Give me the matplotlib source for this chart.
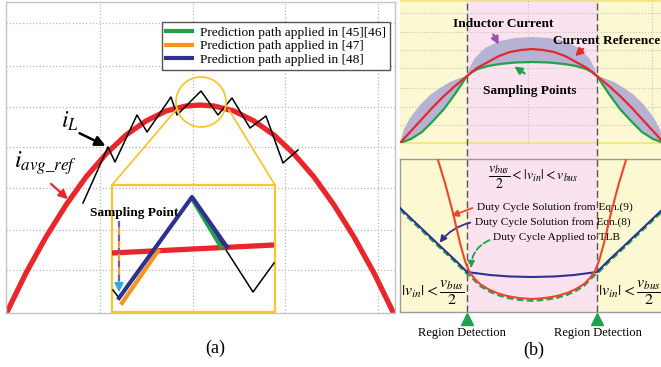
import numpy as np
import matplotlib
matplotlib.use("Agg")
import matplotlib.pyplot as plt
from matplotlib.patches import Circle, Rectangle
from matplotlib.lines import Line2D

plt.rcParams["font.family"] = ["Liberation Serif", "DejaVu Serif"]
plt.rcParams["mathtext.fontset"] = "stix"

# ---------------- panel (a): predictive current control over one half cycle ----------------
# average current reference (arbitrary units)
ref_x = [0, 20, 40, 60, 80, 100, 120, 140, 160, 180, 194, 208, 228, 248, 268, 288, 308, 328, 348, 368, 388]
ref_y = [-1, 40, 76, 108, 136, 159, 178, 192, 202, 207, 208, 207, 202, 192, 178, 159, 136, 108, 76, 40, -1]
# inductor current ripple
il_x = [77, 102, 109, 131, 141, 165, 171, 195, 212, 226, 244, 260, 277, 292]
il_y = [110, 166, 151, 198, 181, 216, 198, 222, 198, 215, 185, 197, 150, 163]
# magnified switching period
zoom_il_x = [107, 113, 186, 247, 268]
zoom_il_y = [23, 15, 116, 21, 50]
zoom_ref_x = [106, 268]
zoom_ref_y = [60, 68]
path_4546_x = [188, 215]
path_4546_y = [111, 66]
path_47_x = [116, 152]
path_47_y = [10, 62]
path_48_x = [113, 186, 221]
path_48_y = [15, 116, 66]
legend_labels = ["Prediction path applied in [45][46]",
                 "Prediction path applied in [47]",
                 "Prediction path applied in [48]"]

# ---------------- panel (b), top: currents over a line half cycle ----------------
cur_ref_x = [0, 11, 22, 33, 44, 55, 67, 77, 88, 99, 110, 121, 132, 143, 154, 165, 176, 187, 197,
             209, 220, 231, 242, 253, 264]
cur_ref_y = [0, 12, 24, 36, 47, 57, 67, 75, 81, 87, 91, 93, 94, 93, 91, 87, 81, 75, 67,
             57, 47, 36, 24, 12, 0]
sample_x = [0, 11, 22, 33, 44, 55, 67, 72, 78, 88, 100, 115, 132, 149, 164, 176, 186, 192, 197,
            209, 220, 231, 242, 253, 264]
sample_y = [0, 4, 11, 22, 34, 49, 67, 71, 74, 77, 79, 80.5, 81, 80.5, 79, 77, 74, 71, 67,
            49, 34, 22, 11, 4, 0]
ind_env_x = [0, 4, 10, 20, 30, 40, 50, 60, 67, 70, 75, 85, 100, 115, 132, 149, 164, 179, 189, 194,
             197, 204, 214, 224, 234, 244, 254, 260, 264]
ind_env_y = [0, 14, 25, 38, 48, 55, 61, 65, 67, 76, 85, 95, 102, 105, 106, 105, 102, 95, 85, 76,
             67, 65, 61, 55, 48, 38, 25, 14, 0]

# ---------------- panel (b), bottom: duty cycle solutions ----------------
eq8_x = [0, 20, 40, 55, 67, 90, 110, 132, 154, 174, 197, 209, 224, 244, 264]
eq8_y = [101, 82, 63, 49, 37, 34, 32.5, 32, 32.5, 34, 37, 49, 63, 82, 101]
eq9_x = [38, 45, 53, 60, 65, 69, 74, 80, 88, 97, 107, 119, 132, 145, 157, 167, 176, 184, 190, 195,
         199, 204, 211, 219, 226]
eq9_y = [149, 126, 96, 66, 48, 38, 31, 25, 20, 16, 13, 11, 10, 11, 13, 16, 20, 25, 31, 38,
         48, 66, 96, 126, 149]
applied_x = [0, 20, 40, 55, 67, 69, 74, 80, 88, 97, 107, 119, 132, 145, 157, 167, 176, 184, 190, 195,
             197, 209, 224, 244, 264]
applied_y = [101, 82, 63, 49, 37, 36, 31, 25, 20, 16, 13, 11, 10, 11, 13, 16, 20, 25, 31, 36,
             37, 49, 63, 82, 101]
region_edges = [67, 197]

RED = "#e8262b"
GREEN = "#1fa34a"
ORANGE = "#f7941d"
NAVY = "#2e3192"
YELLOW = "#f8c630"
BG_Y = "#fcf9d2"
BG_P = "#fae3ef"
FILL = "#b6b2d4"
EQ9 = "#f0452c"

W, H = 661, 367


def rect(x0, y0, x1, y1):
    return [x0 / W, 1 - y1 / H, (x1 - x0) / W, (y1 - y0) / H]


fig = plt.figure(figsize=(W / 100, H / 100), dpi=100)

# ======================= (a) =======================
ax = fig.add_axes(rect(6, 2, 395, 313))
ax.set_xlim(0, 389)
ax.set_ylim(0, 311)
ax.set_xticks([94, 187, 279, 372])
ax.set_yticks([43, 83, 125, 166, 206, 247, 290])
ax.tick_params(length=0, labelbottom=False, labelleft=False)
ax.grid(True, linestyle=":", color="#b8b8b8", lw=0.9)
for s in ax.spines.values():
    s.set_color("#c4c4c4")
    s.set_linewidth(1.0)

ax.plot(ref_x, ref_y, color=RED, lw=3.8, solid_capstyle="butt", zorder=2)
ax.plot(il_x, il_y, color="black", lw=1.1, zorder=3)

ax.add_patch(Circle((195, 211), 25, fill=False, ec=YELLOW, lw=1.3, zorder=4))
ax.plot([170, 106], [203, 128], color=YELLOW, lw=1.3, zorder=4)
ax.plot([223, 269], [203, 128], color=YELLOW, lw=1.3, zorder=4)
ax.add_patch(Rectangle((106, 0.8), 163, 127.2, fill=False, ec=YELLOW, lw=1.6, zorder=4))

ax.plot(zoom_il_x, zoom_il_y, color="black", lw=1.1, zorder=5)
ax.plot(zoom_ref_x, zoom_ref_y, color=RED, lw=3.8, solid_capstyle="butt", zorder=5)
ax.plot(path_4546_x, path_4546_y, color=GREEN, lw=3.0, zorder=6)
ax.plot(path_47_x, path_47_y, color=ORANGE, lw=3.0, zorder=6)
ax.plot(path_48_x, path_48_y, color=NAVY, lw=3.0, zorder=7)

ax.plot([113, 113], [92, 30], color="#7e57a8", lw=1.6, linestyle=(0, (3, 3)), zorder=8)
ax.plot([113, 113], [92, 30], color="#f39a2b", lw=1.6, linestyle=(3, (3, 3)), zorder=8)
ax.annotate("", xy=(113, 18), xytext=(113, 31),
            arrowprops=dict(arrowstyle="-|>", color="#29abe2", lw=1.4, mutation_scale=13), zorder=9)
ax.text(84, 100, "Sampling Point", fontsize=9.6, fontweight="bold", ha="left", va="center", zorder=9)

ax.text(55, 185, r"$i_L$", fontsize=17, ha="left", va="baseline")
ax.annotate("", xy=(102, 166), xytext=(71, 181),
            arrowprops=dict(arrowstyle="-|>", color="black", lw=1.8, mutation_scale=15))
ax.text(8, 145, r"$i_{avg\_ref}$", fontsize=17.5, ha="left", va="baseline")
ax.annotate("", xy=(64, 112), xytext=(43, 131),
            arrowprops=dict(arrowstyle="-|>", color=RED, lw=1.6, mutation_scale=13))

handles = [Line2D([], [], color=c, lw=3.0) for c in (GREEN, ORANGE, NAVY)]
leg = ax.legend(handles, legend_labels, loc="upper right", bbox_to_anchor=(0.988, 0.935),
                fontsize=9.6, frameon=True, fancybox=False, framealpha=1, edgecolor="#555555",
                borderpad=0.3, labelspacing=0.1, handlelength=2.0, handletextpad=0.6,
                borderaxespad=0)
leg.get_frame().set_linewidth(1.0)
leg.set_zorder(10)

fig.text(215 / W, 1 - 348 / H, "(a)", fontsize=13, ha="center", va="center")

# ======================= (b) background =======================
bg = fig.add_axes(rect(400, 0, 662, 313))
bg.set_xlim(0, 262)
bg.set_ylim(0, 313)
bg.axis("off")
bg.add_patch(Rectangle((0, 1), 262, 312, color=BG_Y, zorder=0))
bg.add_patch(Rectangle((region_edges[0], 1), region_edges[1] - region_edges[0], 312, color=BG_P, zorder=0))
for xe in region_edges:
    bg.plot([xe, xe], [1, 313], color="#555555", lw=1.0, linestyle=(0, (5, 2.5)), zorder=5)
    bg.plot([xe], [-6], marker="^", color=GREEN, markersize=8, clip_on=False)
bg.plot([0, 262], [170, 170], color="#efe37a", lw=1.2)
bg.plot([0, 262], [312, 312], color="#efe37a", lw=1.2)
bg.text(62, -20, "Region Detection", fontsize=9, ha="center", va="center")
bg.text(198, -20, "Region Detection", fontsize=9, ha="center", va="center")
fig.text(534 / W, 1 - 350 / H, "(b)", fontsize=13, ha="center", va="center")

# ======================= (b) top: currents =======================
at = fig.add_axes(rect(400, 0, 662, 143))
at.set_xlim(0, 262)
at.set_ylim(0, 143)
at.patch.set_alpha(0)
at.set_xticks([128, 252])
at.set_yticks([18, 36, 55, 75, 93, 111, 130])
at.tick_params(length=0, labelbottom=False, labelleft=False)
at.grid(True, linestyle=":", color="#c9c2b8", lw=0.8)
for s in at.spines.values():
    s.set_visible(False)

at.fill(ind_env_x + sample_x[::-1], ind_env_y + sample_y[::-1], color=FILL, lw=0, zorder=2)
at.plot(sample_x, sample_y, color=GREEN, lw=1.6, zorder=3)
at.plot(cur_ref_x, cur_ref_y, color=RED, lw=1.6, zorder=4)

at.text(103, 119, "Inductor Current", fontsize=9.6, fontweight="bold", ha="center", va="center", zorder=6)
at.annotate("", xy=(100, 96), xytext=(92, 111),
            arrowprops=dict(arrowstyle="-|>", color="#9b4fb0", lw=1.6, mutation_scale=11), zorder=6)
at.text(153, 102, "Current Reference", fontsize=9.6, fontweight="bold", ha="left", va="center", zorder=6)
at.annotate("", xy=(173, 85), xytext=(185, 96),
            arrowprops=dict(arrowstyle="-|>", color=RED, lw=1.6, mutation_scale=11), zorder=6)
at.text(130, 52, "Sampling Points", fontsize=9.6, fontweight="bold", ha="center", va="center", zorder=6)
at.annotate("", xy=(112, 78), xytext=(127, 68),
            arrowprops=dict(arrowstyle="-|>", color=GREEN, lw=1.6, mutation_scale=11), zorder=6)

# ======================= (b) bottom: duty cycles =======================
ab = fig.add_axes(rect(400, 159, 662, 312))
ab.set_xlim(0, 262)
ab.set_ylim(-3, 150)
ab.patch.set_alpha(0)
ab.set_xticks([])
ab.set_yticks([])
for s in ab.spines.values():
    s.set_color("#9a9a9a")
    s.set_linewidth(1.0)

ab.plot(eq8_x, eq8_y, color=NAVY, lw=1.5, zorder=3)
ab.plot(np.array(applied_x), np.array(applied_y) - 1.8, color=GREEN, lw=1.6,
        linestyle=(0, (3, 1.5)), zorder=2)
ab.plot(eq9_x, eq9_y, color=EQ9, lw=1.5, zorder=4)

ab.text(133, 131, r"$\dfrac{v_{bus}}{2} < |v_{in}| < v_{bus}$", fontsize=10, ha="center", va="center")
ab.text(77, 102, "Duty Cycle Solution from Eqn.(9)", fontsize=8.2, ha="left", va="center")
ab.text(75, 87, "Duty Cycle Solution from Eqn.(8)", fontsize=8.2, ha="left", va="center")
ab.text(93, 72, "Duty Cycle Applied to TLB", fontsize=8.2, ha="left", va="center")
ab.annotate("", xy=(49, 92), xytext=(75, 102),
            arrowprops=dict(arrowstyle="-|>", color=EQ9, lw=1.3, mutation_scale=10))
ab.annotate("", xy=(38, 64), xytext=(73, 87),
            arrowprops=dict(arrowstyle="-|>", color=NAVY, lw=1.3, mutation_scale=10,
                            connectionstyle="arc3,rad=0.2"))
ab.annotate("", xy=(71, 38), xytext=(92, 70),
            arrowprops=dict(arrowstyle="-|>", color=GREEN, lw=1.3, mutation_scale=10,
                            linestyle="--", connectionstyle="arc3,rad=0.35"))
ab.text(33, 16, r"$|v_{in}| < \dfrac{v_{bus}}{2}$", fontsize=11.5, ha="center", va="center")
ab.text(230, 16, r"$|v_{in}| < \dfrac{v_{bus}}{2}$", fontsize=11.5, ha="center", va="center")

fig.savefig("out.png", dpi=100)
